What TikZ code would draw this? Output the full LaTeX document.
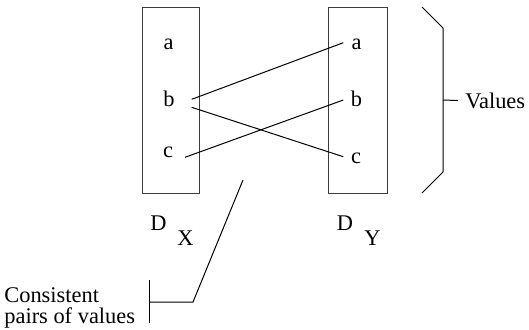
\documentclass[tikz,border=0pt]{standalone}
\usepackage{fontspec}
\setmainfont{Liberation Serif}
\usetikzlibrary{calc}
\definecolor{boxgray}{RGB}{60,60,60}

\begin{document}
\begin{tikzpicture}[x=0.5pt,y=-0.5pt,
    lbl/.style={inner sep=0pt,font=\fontsize{11.2}{11}\selectfont},
    ln/.style={line width=0.5pt}]
    \useasboundingbox (0,0) rectangle (529,329);

    % the two domains
    \draw[ln, boxgray] (142,7) rectangle (199,193);
    \draw[ln, boxgray] (328,7) rectangle (387,193);
    \node[lbl] (xa) at (168.5,44) {a};
    \node[lbl] (xb) at (169,99) {b};
    \node[lbl] (xc) at (168,152) {c};
    \node[lbl] (ya) at (356.5,44) {a};
    \node[lbl] (yb) at (356.5,99) {b};
    \node[lbl] (yc) at (356,158) {c};
    \node[lbl] (dx) at (158.5,223.5) {D};
    \node[lbl] (dxs) at (185.5,238.5) {X};
    \node[lbl] (dy) at (345,223.5) {D};
    \node[lbl] (dys) at (372.5,238.5) {Y};

    % consistent pairs
    \draw[ln] ([shift={(22.7,0.3)}]xb.center) -- ([shift={(-13.2,-1.3)}]ya.center);
    \draw[ln] ([shift={(22.7,8.3)}]xb.center) -- ([shift={(-12.7,-1.3)}]yc.center);
    \draw[ln] ([shift={(17,5.3)}]xc.center) -- ([shift={(-13.2,1)}]yb.center);

    % values bracket
    \node[lbl, inner xsep=3.5pt, anchor=west] (values) at (458,100.5) {Values};
    \coordinate (vt) at (443,100);
    \draw[ln] (422,7) -- (443,28) -- (443,172) -- (422,193);
    \draw[ln] (vt) -- (values.west);

    % pointer to the pairs
    \node[lbl, align=left, anchor=west] (pairs) at (4,308) {Consistent\\[-0.3pt]pairs of values};
    \coordinate (ptip) at (243,180);
    \coordinate (pbar) at (149,302);
    \draw[ln] (ptip) -- (193,302) -- (pbar);
    \draw[ln] (149,280) -- (149,323);
\end{tikzpicture}
\end{document}
